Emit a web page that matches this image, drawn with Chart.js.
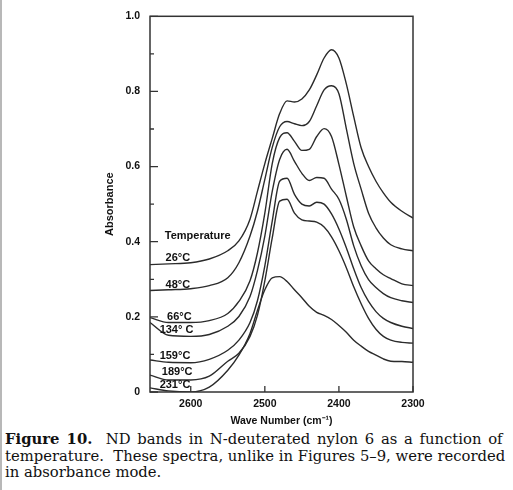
<!DOCTYPE html>
<html>
<head>
<meta charset="utf-8">
<script src="https://cdn.jsdelivr.net/npm/chart.js@4"></script>
<style>
  html, body { margin: 0; padding: 0; background: #fff; }
  body { width: 513px; height: 490px; position: relative; overflow: hidden; border-left: 2px solid #b8b8b8; box-sizing: border-box; }
  #wrap { position: absolute; left: 0; top: 0; width: 513px; height: 430px; }
  #caption {
    position: absolute; left: 3px; top: 431px; width: 512px;
    font-family: "DejaVu Serif", serif; font-size: 14.8px; line-height: 16.5px;
    color: #111; white-space: nowrap;
  }
  #caption .l1 { word-spacing: 2px; }
</style>
</head>
<body>
<div id="wrap"><canvas id="myChart" width="513" height="430"></canvas></div>
<div id="caption"><span class="l1"><b>Figure 10.</b>&nbsp; ND bands in N-deuterated nylon 6 as a function of</span><br>temperature.&nbsp; These spectra, unlike in Figures 5&ndash;9, were recorded<br>in absorbance mode.</div>
<script>
/* DATA */

// wave numbers (cm-1) where the curves were read
const waveNumbers = [2655, 2630, 2600, 2575, 2550, 2535, 2520, 2510, 2500, 2490, 2480, 2470, 2460, 2450,
  2440, 2430, 2420, 2410, 2400, 2390, 2380, 2370, 2360, 2350, 2340, 2330, 2315, 2300];

const temps = ['26°C', '48°C', '66°C', '134° C', '159°C', '189°C', '231°C'];

const abs26 = [0.339, 0.341, 0.344, 0.354, 0.376, 0.402, 0.460, 0.534, 0.608, 0.675, 0.741, 0.775, 0.772, 0.780,
  0.804, 0.844, 0.889, 0.911, 0.889, 0.820, 0.733, 0.650, 0.600, 0.561, 0.530, 0.505, 0.481, 0.463];
const abs48 = [0.270, 0.272, 0.275, 0.283, 0.304, 0.344, 0.415, 0.481, 0.566, 0.651, 0.706, 0.720, 0.714, 0.709,
  0.720, 0.762, 0.804, 0.815, 0.794, 0.701, 0.608, 0.540, 0.476, 0.437, 0.410, 0.392, 0.381, 0.376];
const abs66 = [0.198, 0.185, 0.185, 0.190, 0.209, 0.241, 0.296, 0.370, 0.476, 0.608, 0.677, 0.690, 0.667, 0.643,
  0.646, 0.680, 0.701, 0.680, 0.606, 0.521, 0.439, 0.389, 0.349, 0.328, 0.312, 0.302, 0.288, 0.283];
const abs134 = [0.185, 0.151, 0.148, 0.153, 0.175, 0.201, 0.254, 0.323, 0.415, 0.534, 0.619, 0.646, 0.614, 0.582,
  0.563, 0.571, 0.569, 0.540, 0.513, 0.460, 0.389, 0.336, 0.299, 0.278, 0.262, 0.251, 0.243, 0.238];
const abs159 = [0.085, 0.079, 0.078, 0.087, 0.111, 0.138, 0.185, 0.243, 0.336, 0.455, 0.561, 0.569, 0.526, 0.500,
  0.495, 0.505, 0.500, 0.474, 0.434, 0.384, 0.328, 0.278, 0.241, 0.214, 0.196, 0.185, 0.175, 0.169];
const abs189 = [0.045, 0.032, 0.032, 0.042, 0.082, 0.103, 0.148, 0.204, 0.296, 0.410, 0.508, 0.513, 0.476, 0.458,
  0.455, 0.452, 0.439, 0.413, 0.376, 0.331, 0.280, 0.235, 0.196, 0.167, 0.148, 0.138, 0.132, 0.130];
const abs231 = [0.011, 0.003, 0.000, 0.013, 0.058, 0.098, 0.156, 0.217, 0.272, 0.304, 0.307, 0.294, 0.272, 0.251,
  0.228, 0.212, 0.204, 0.193, 0.177, 0.159, 0.138, 0.122, 0.108, 0.098, 0.088, 0.082, 0.081, 0.079];

const xTicks = [2600, 2500, 2400, 2300];
const yTicks = [0, 0.2, 0.4, 0.6, 0.8, 1.0];
const yMinorTicks = [0.1, 0.3, 0.5, 0.7, 0.9];

// curve labels, anchored in data units (left edge, middle)
const labelText = ['Temperature', '26°C', '48°C', '66°C', '134° C', '159°C', '189°C', '231°C'];
const labelX = [2635, 2634, 2634, 2632, 2642, 2642, 2639, 2642];
const labelY = [0.415, 0.356, 0.286, 0.199, 0.164, 0.096, 0.054, 0.019];

/* CHART */

const ink = '#2b2b2b';
const sans = '"Liberation Sans", Arial, sans-serif';
const series = [abs26, abs48, abs66, abs134, abs159, abs189, abs231];

// box, inward ticks and the temperature labels
const frame = {
  id: 'frame',
  afterDatasetsDraw(chart) {
    const { ctx, chartArea: a, scales: { x, y } } = chart;
    ctx.save();
    ctx.strokeStyle = '#333';
    ctx.lineWidth = 1.5;
    ctx.strokeRect(a.left, a.top, a.right - a.left, a.bottom - a.top);

    ctx.lineWidth = 1.3;
    ctx.beginPath();
    yTicks.forEach(function(v) {
      const py = y.getPixelForValue(v);
      ctx.moveTo(a.left, py); ctx.lineTo(a.left + 8, py);
    });
    yMinorTicks.forEach(function(v) {
      const py = y.getPixelForValue(v);
      ctx.moveTo(a.left, py); ctx.lineTo(a.left + 4, py);
    });
    xTicks.forEach(function(v) {
      const px = x.getPixelForValue(v);
      ctx.moveTo(px, a.bottom); ctx.lineTo(px, a.bottom - 6);
    });
    ctx.stroke();

    ctx.fillStyle = '#111';
    ctx.font = 'bold 11px ' + sans;
    ctx.textAlign = 'left';
    ctx.textBaseline = 'middle';
    labelText.forEach(function(t, i) {
      ctx.fillText(t, x.getPixelForValue(labelX[i]), y.getPixelForValue(labelY[i]));
    });
    ctx.restore();
  }
};

const ctx = document.getElementById('myChart').getContext('2d');

const chart = new Chart(ctx, {
  type: 'line',
  data: {
    datasets: series.map(function(vals, i) {
      return {
        label: temps[i],
        data: vals.map(function(v, j) { return { x: waveNumbers[j], y: v }; }),
        borderColor: ink,
        borderWidth: 1.4,
        pointRadius: 0,
        fill: false,
        cubicInterpolationMode: 'monotone'
      };
    })
  },
  options: {
    responsive: false,
    animation: false,
    devicePixelRatio: 1,
    layout: { padding: { left: 100, right: 102, top: 14, bottom: 0 } },
    plugins: { legend: { display: false }, tooltip: { enabled: false } },
    scales: {
      x: {
        type: 'linear',
        reverse: true,
        min: 2300,
        max: 2655,
        afterBuildTicks: function(s) { s.ticks = xTicks.map(function(v) { return { value: v }; }); },
        afterFit: function(s) { s.height = 38; },
        grid: { display: false, drawTicks: false },
        border: { display: false },
        ticks: { padding: 6, color: '#111', font: { family: sans, size: 10.5, weight: 'bold' }, maxRotation: 0, autoSkip: false,
          callback: function(v) { return String(v); } },
        title: { display: true, text: 'Wave Number (cm⁻¹)', color: '#111', font: { family: sans, size: 10.5, weight: 'bold' },
          padding: { top: 0, bottom: 3 } }
      },
      y: {
        min: 0,
        max: 1,
        afterBuildTicks: function(s) { s.ticks = yTicks.map(function(v) { return { value: v }; }); },
        afterFit: function(s) { s.width = 48; },
        grid: { display: false, drawTicks: false },
        border: { display: false },
        ticks: { padding: 10, color: '#111', font: { family: sans, size: 10.5, weight: 'bold' },
          callback: function(v) { return v === 0 ? '0' : v.toFixed(1); } },
        title: { display: true, text: 'Absorbance', color: '#111', font: { family: sans, size: 11, weight: 'bold' },
          padding: { top: 1, bottom: 0 } }
      }
    }
  },
  plugins: [frame]
});
</script>
</body>
</html>
